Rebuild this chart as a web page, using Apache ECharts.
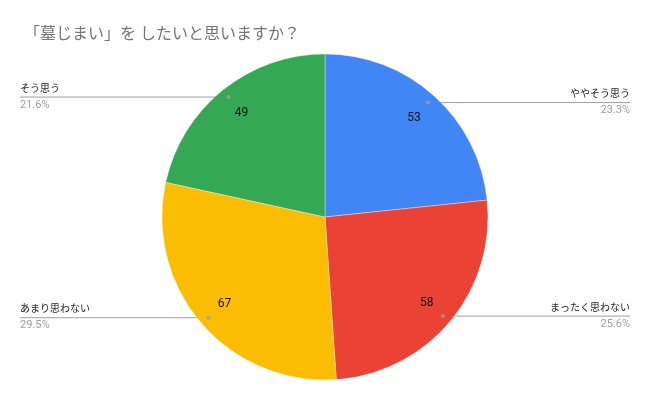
<!DOCTYPE html>
<html lang="ja">
<head>
<meta charset="utf-8">
<script src="https://cdn.jsdelivr.net/npm/echarts@6/dist/echarts.min.js"></script>
<style>
  html, body { margin: 0; padding: 0; background: #fff; }
  #chart { width: 650px; height: 401px; }
</style>
</head>
<body>
<div id="chart"></div>
<script type="text/javascript">
    var names = ['ややそう思う', 'まったく思わない', 'あまり思わない', 'そう思う'];
    var values = [53, 58, 67, 49];
    var colors = ['#4285F4', '#EA4335', '#FBBC04', '#34A853'];

    var font = "Roboto, 'Noto Sans CJK JP', sans-serif";
    var cx = 325, cy = 217, R = 163;

    var pieData = names.map(function (n, i) {
        return { name: n, value: values[i], itemStyle: { color: colors[i] } };
    });

    // mid-point of every slice, for the small leader dots
    var total = 0;
    values.forEach(function (v) { total += v; });
    var dots = [];
    var acc = 0;
    values.forEach(function (v) {
        dots.push([R * 0.945, acc + v / 2]);
        acc += v;
    });

    var myChart = echarts.init(document.getElementById('chart'));
    var option = {
        animation: false,
        title: {
            text: '「墓じまい」を したいと思いますか？',
            left: 19,
            top: 22,
            textStyle: { fontFamily: font, fontSize: 16, fontWeight: 'normal', color: '#757575' }
        },
        polar: { center: [cx, cy], radius: R },
        angleAxis: { type: 'value', min: 0, max: total, startAngle: 90, clockwise: true, show: false },
        radiusAxis: { type: 'value', min: 0, max: R, show: false },
        series: [{
            // filled slices
            type: 'pie',
            center: [cx, cy],
            radius: [0, R],
            startAngle: 90,
            clockwise: true,
            silent: true,
            label: { show: false },
            labelLine: { show: false },
            itemStyle: { borderColor: 'rgba(255,255,255,0.6)', borderWidth: 0.6 },
            data: pieData
        }, {
            // value labels inside
            type: 'pie',
            center: [cx, cy],
            radius: [97, R],
            startAngle: 90,
            clockwise: true,
            silent: true,
            itemStyle: { color: 'transparent' },
            label: {
                position: 'inside',
                formatter: '{c}',
                fontFamily: font,
                fontSize: 12,
                color: '#111'
            },
            labelLine: { show: false },
            data: values.map(function (v, i) { return { name: names[i], value: v }; })
        }, {
            // name / percent labels at the edges
            type: 'pie',
            center: [cx, cy],
            radius: [0, R * 0.945],
            startAngle: 90,
            clockwise: true,
            silent: true,
            percentPrecision: 1,
            itemStyle: { color: 'transparent' },
            label: {
                position: 'outside',
                alignTo: 'edge',
                edgeDistance: 20,
                formatter: function (p) {
                    return '{n|' + p.name + '}\n{p|' + p.percent.toFixed(1) + '%}';
                },
                rich: {
                    n: { fontFamily: font, fontSize: 10, color: '#222', lineHeight: 16 },
                    p: { fontFamily: font, fontSize: 11, color: '#9e9e9e', lineHeight: 16 }
                }
            },
            labelLine: {
                show: true,
                length: 0,
                length2: 10,
                lineStyle: { color: '#9e9e9e', width: 1 }
            },
            labelLayout: function (p) {
                var pts = p.labelLinePoints;
                if (!pts) return {};
                var r = p.labelRect;
                var last = pts[pts.length - 1];
                if (last[0] > pts[0][0]) {
                    last[0] = r.x + r.width;
                } else {
                    last[0] = r.x;
                }
                return { labelLinePoints: pts };
            },
            data: values.map(function (v, i) { return { name: names[i], value: v }; })
        }, {
            type: 'scatter',
            coordinateSystem: 'polar',
            silent: true,
            symbolSize: 4,
            itemStyle: { color: '#9e9e9e' },
            data: dots
        }]
    };
    myChart.setOption(option);
</script>
</body>
</html>
